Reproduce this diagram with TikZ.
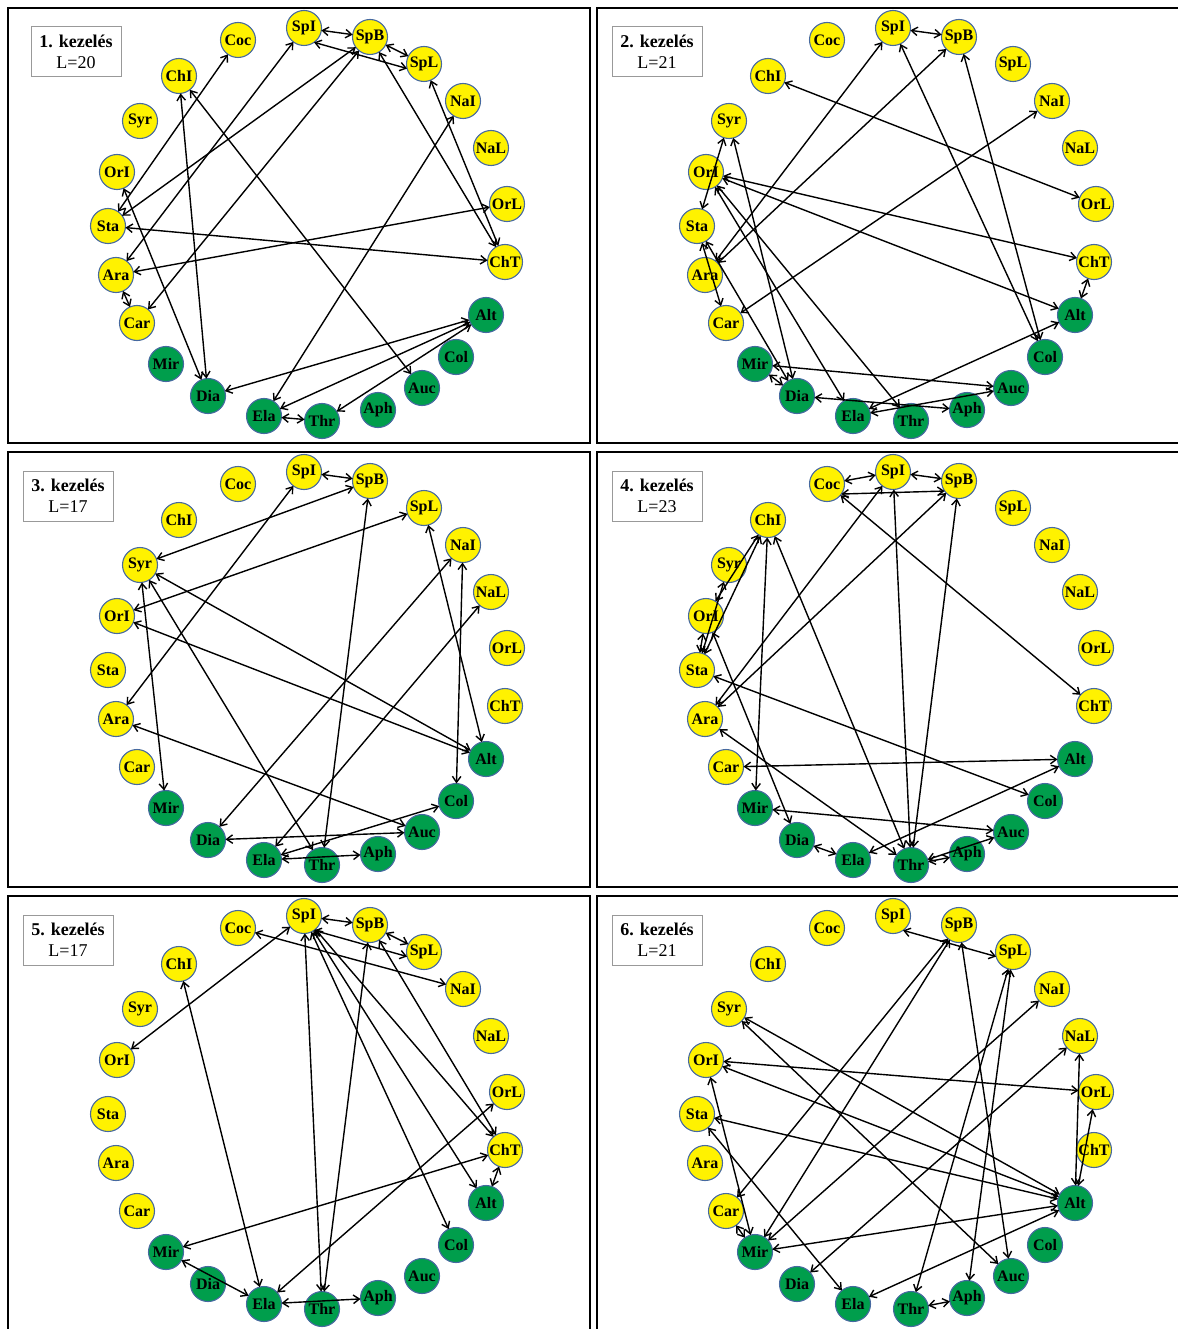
\documentclass[tikz,border=0pt]{standalone}
\usepackage{fontspec}
\setmainfont{Liberation Serif}
\usetikzlibrary{arrows.meta}
\definecolor{nodegreen}{RGB}{0,158,76}
\definecolor{nodeedge}{RGB}{70,105,160}

\begin{document}
\begin{tikzpicture}[x=1pt,y=-1pt,
    nd/.style={circle,draw=nodeedge,line width=1.1pt,minimum size=35pt,inner sep=0pt,outer sep=0pt,
        font=\fontsize{16}{16}\selectfont\bfseries},
    link/.style={{Straight Barb[length=6pt,width=8.5pt]}-{Straight Barb[length=6pt,width=8.5pt]},
        line width=1.4pt},
    frame/.style={draw,line width=1.8pt},
    tag/.style={draw=gray!80,line width=1pt,minimum width=90pt,minimum height=50pt,
        align=center,font=\fontsize{18}{21}\selectfont}]

    \useasboundingbox (0,0) rectangle (1177,1329);

    % six panels, same circular layout
    \foreach \p/\c/\r/\L/\tx in {1/0/0/20/76,2/1/0/21/68,3/0/1/17/68,4/1/1/23/68,5/0/2/17/68,6/1/2/21/68} {
        \begin{scope}[shift={(589*\c,444*\r)}]
            \draw[frame] (8,8) rectangle (590,443);
            \node[tag] (tag\p) at (\tx,52) {\textbf{\p. kezelés}\\L=\L};
            \foreach \n/\x/\y/\f in {SpI/304/28/yellow,SpB/370/37/yellow,SpL/424/64/yellow,
                NaI/463/101/yellow,NaL/491/148/yellow,OrL/507/204/yellow,ChT/505/262/yellow,
                Alt/486/315/nodegreen,Col/456/357/nodegreen,Auc/422/388/nodegreen,
                Aph/378/410/nodegreen,Thr/322/421/nodegreen,Ela/264/416/nodegreen,
                Dia/208/396/nodegreen,Mir/166/364/nodegreen,Car/137/323/yellow,
                Ara/116/275/yellow,Sta/108/226/yellow,OrI/117/172/yellow,
                Syr/140/121/yellow,ChI/179/76/yellow,Coc/238/40/yellow}
                \node[nd,fill=\f] (p\p\n) at (\x,\y) {\n};
        \end{scope}
    }

    % links that pass under a neighbour
    \foreach \p in {1,5,6}
        \draw[link] (p\p SpI.-55) -- (p\p SpL.195);
    \draw[link] (p4Coc.-35) -- (p4SpB.215);

    % 1. kezeles
    \foreach \a/\b in {SpI/SpB,SpB/SpL,Coc/Sta,SpI/Ara,SpB/Car,SpB/Sta,SpB/ChT,
        SpL/ChT,NaI/Ela,OrL/Ara,Sta/ChT,ChI/Auc,ChI/Dia,OrI/Dia,Ara/Car,Alt/Dia,Alt/Ela,
        Alt/Thr,Ela/Thr}
        \draw[link] (p1\a) -- (p1\b);

    % 2. kezeles
    \foreach \a/\b in {SpI/SpB,SpI/Ara,SpB/Ara,NaI/Car,ChI/OrL,SpI/Col,SpB/Col,OrI/ChT,
        OrI/Alt,Syr/Sta,Syr/Dia,Sta/Car,OrI/Thr,OrI/Ela,Sta/Dia,Mir/Dia,Mir/Auc,Dia/Aph,
        Ela/Auc,Ela/Alt,ChT/Alt}
        \draw[link] (p2\a) -- (p2\b);

    % 3. kezeles
    \foreach \a/\b in {SpI/SpB,SpI/Ara,SpB/Syr,SpL/OrI,SpB/Thr,SpL/Alt,NaI/Dia,NaI/Col,
        NaL/Ela,Syr/Alt,Syr/Mir,Syr/Thr,OrI/Alt,Ara/Auc,Dia/Auc,Ela/Col,Ela/Aph}
        \draw[link] (p3\a) -- (p3\b);

    % 4. kezeles
    \foreach \a/\b in {Coc/SpI,SpI/SpB,SpI/Ara,SpB/Ara,SpI/Thr,SpB/Thr,Coc/ChT,
        ChI/Thr,ChI/Mir,ChI/OrI,ChI/Sta,Syr/Sta,OrI/Sta,OrI/Dia,Sta/Col,Ara/Thr,Car/Alt,
        Mir/Auc,Dia/Ela,Ela/Alt,Thr/Auc,Thr/Aph}
        \draw[link] (p4\a) -- (p4\b);

    % 5. kezeles
    \foreach \a/\b in {SpI/SpB,SpB/SpL,SpI/OrI,Coc/NaI,ChI/Ela,SpI/Thr,SpB/Thr,
        SpI/Col,SpI/Alt,SpI/ChT,SpB/ChT,OrL/Ela,ChT/Mir,ChT/Alt,Mir/Ela,Ela/Aph}
        \draw[link] (p5\a) -- (p5\b);

    % 6. kezeles
    \foreach \a/\b in {SpB/Car,SpB/Mir,SpB/Auc,SpL/Thr,SpL/Aph,NaI/Mir,NaL/Dia,
        NaL/Alt,OrL/Alt,OrI/OrL,Syr/Alt,Syr/Auc,OrI/Alt,OrI/Mir,Sta/Alt,Sta/Ela,Car/Mir,
        Mir/Alt,Ela/Alt,Thr/Aph}
        \draw[link] (p6\a) -- (p6\b);
\end{tikzpicture}
\end{document}
